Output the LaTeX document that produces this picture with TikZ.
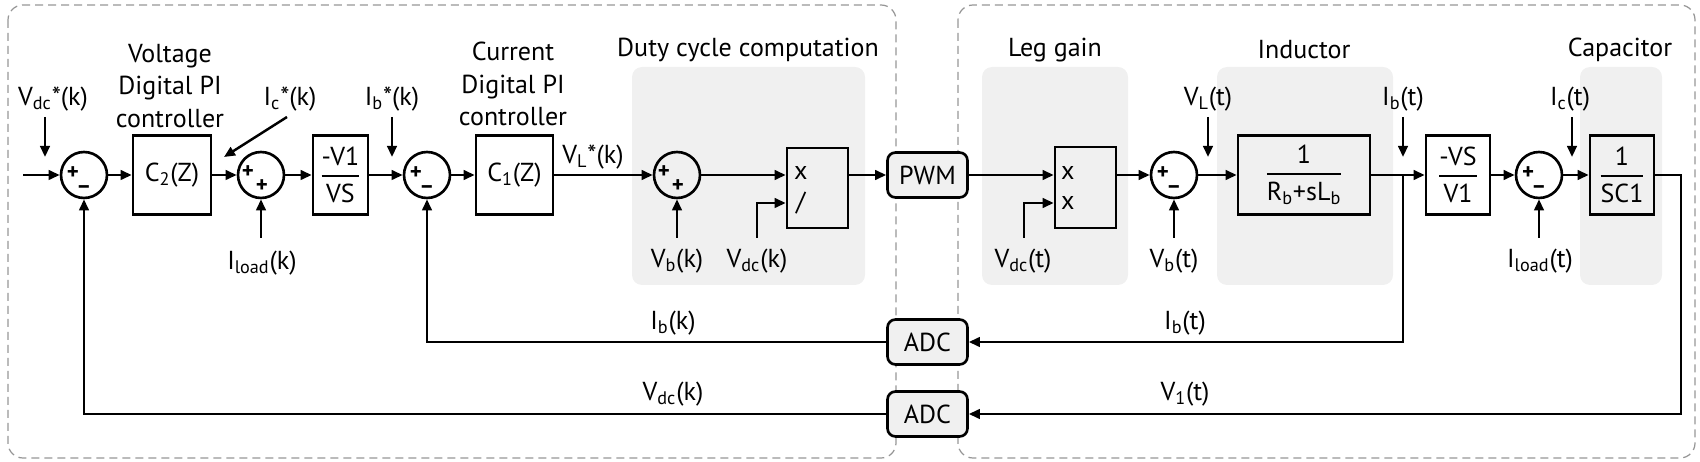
\documentclass[tikz,border=0pt]{standalone}
\usepackage{fontspec}
\setmainfont{PT Sans}
\usepackage{amsmath}
\usetikzlibrary{arrows.meta}

\definecolor{zonagray}{RGB}{240,240,240}
\definecolor{bordogray}{RGB}{150,150,150}

\newcommand{\frazione}[2]{$\genfrac{}{}{1.3pt}{0}{\text{#1}}{\text{#2}}$}

\begin{document}
\begin{tikzpicture}[x=0.02cm, y=-0.02cm,
	every node/.style={font=\fontsize{14.8pt}{18.5pt}\selectfont},
	blk/.style={draw, line width=1.5pt, inner sep=0pt, minimum height=1.58cm},
	sumc/.style={draw, circle, line width=1.5pt, minimum size=0.92cm, inner sep=0pt},
	conv/.style={draw, line width=1.5pt, rounded corners=0.16cm, fill=zonagray, minimum width=1.6cm, minimum height=0.9cm, inner sep=0pt},
	sgn/.style={font=\fontsize{13pt}{13pt}\selectfont\bfseries, inner sep=0pt},
	sig/.style={line width=1.4pt, -{Triangle[length=0.22cm, width=0.19cm]}},
	zona/.style={fill=zonagray, rounded corners=0.2cm},
	cornice/.style={draw=bordogray, line width=0.7pt, dash pattern=on 0.16cm off 0.1cm, rounded corners=0.3cm}]
	\useasboundingbox (0,0) rectangle (1700,462);

	% sfondi
	\draw[cornice] (8,5) rectangle (896,458);
	\draw[cornice] (958,5) rectangle (1695,458);
	\fill[zona] (632,67) rectangle (865,285);
	\fill[zona] (982,67) rectangle (1128,285);
	\fill[zona] (1217,67) rectangle (1393,285);
	\fill[zona] (1580,67) rectangle (1662,285);

	% titoli
	\node[align=center] (tvolt) at (170,86) {Voltage\\Digital PI\\controller};
	\node[align=center] (tcurr) at (513,84) {Current\\Digital PI\\controller};
	\node (tduty) at (748,50) {Duty cycle computation};
	\node (tleg) at (1055,50) {Leg gain};
	\node (tind) at (1304,50) {Inductor};
	\node (tcap) at (1620,50) {Capacitor};

	% blocchi
	\node[sumc] (s1) at (84,175) {};
	\node[blk, minimum width=1.56cm] (c2z) at (172,175) {C\textsubscript{2}(Z)};
	\node[sumc] (s2) at (261,175) {};
	\node[blk, minimum width=1.1cm] (gv) at (340.5,175) {\frazione{-V1}{VS}};
	\node[sumc] (s3) at (427,175) {};
	\node[blk, minimum width=1.54cm] (c1z) at (514.5,175) {C\textsubscript{1}(Z)};
	\node[sumc] (s4) at (677,175) {};
	\node[blk, minimum width=1.22cm, minimum height=1.6cm] (divi) at (817.5,188) {};
	\node (divx) at ([shift={(15,-15)}]divi.west) {x};
	\node (divd) at ([shift={(15,15)}]divi.west) {/};
	\node[conv] (pwm) at (927.5,175) {PWM};
	\node[conv] (adc1) at (927.5,342) {ADC};
	\node[conv] (adc2) at (927.5,414) {ADC};
	\node[blk, minimum width=1.22cm, minimum height=1.62cm] (molt) at (1085.5,187.5) {};
	\node (moltx) at ([shift={(14,-14.5)}]molt.west) {x};
	\node (molty) at ([shift={(14,15.5)}]molt.west) {x};
	\node[sumc] (s5) at (1174,175) {};
	\node[blk, minimum width=2.64cm] (indut) at (1304,175) {\frazione{1}{R\textsubscript{b}+sL\textsubscript{b}}};
	\node[blk, minimum width=1.28cm] (gi) at (1458,175) {\frazione{-VS}{V1}};
	\node[sumc] (s6) at (1539,175) {};
	\node[blk, minimum width=1.28cm] (capac) at (1622,175) {\frazione{1}{SC1}};

	% segni
	\foreach \s in {s1,s3,s5,s6} {
		\node[sgn] (\s p) at ([shift={(-11,-2)}]\s.center) {+};
		\node[sgn] (\s m) at ([shift={(0,15)}]\s.center) {–};
	}
	\foreach \s in {s2,s4} {
		\node[sgn] (\s p) at ([shift={(-13,-3)}]\s.center) {+};
		\node[sgn] (\s q) at ([shift={(1,11)}]\s.center) {+};
	}

	% etichette
	\node (lvdcr) at (53,99) {V\textsubscript{dc}*(k)};
	\node (licr) at (290,99) {I\textsubscript{c}*(k)};
	\node (libr) at (392,99) {I\textsubscript{b}*(k)};
	\node (lvls) at (593,157) {V\textsubscript{L}*(k)};
	\node (lilk) at (262,263) {I\textsubscript{load}(k)};
	\node (lvbk) at (677,261) {V\textsubscript{b}(k)};
	\node (lvdck) at (757,261) {V\textsubscript{dc}(k)};
	\node (lvdct) at (1023,261) {V\textsubscript{dc}(t)};
	\node (lvbt) at (1174,261) {V\textsubscript{b}(t)};
	\node (lilt) at (1540,261) {I\textsubscript{load}(t)};
	\node (lvlt) at (1208,99) {V\textsubscript{L}(t)};
	\node (libt) at (1403,99) {I\textsubscript{b}(t)};
	\node (lict) at (1570,99) {I\textsubscript{c}(t)};
	\node (libk) at (673,323) {I\textsubscript{b}(k)};
	\node (lvdcf) at (673,394) {V\textsubscript{dc}(k)};
	\node (libf) at (1185,323) {I\textsubscript{b}(t)};
	\node (lv1f) at (1185,394) {V\textsubscript{1}(t)};

	% frecce delle etichette
	\coordinate (f1a) at (45,117); \coordinate (f1b) at (45,157);
	\coordinate (f2a) at (287,117); \coordinate (f2b) at (224,157);
	\coordinate (f3a) at (392,117); \coordinate (f3b) at (392,157);
	\coordinate (f4a) at (1208,117); \coordinate (f4b) at (1208,157);
	\coordinate (f5a) at (1403,117); \coordinate (f5b) at (1403,157);
	\coordinate (f6a) at (1572,117); \coordinate (f6b) at (1572,157);
	\draw[sig] (f1a) -- (f1b);
	\draw[sig] (f2a) -- (f2b);
	\draw[sig] (f3a) -- (f3b);
	\draw[sig] (f4a) -- (f4b);
	\draw[sig] (f5a) -- (f5b);
	\draw[sig] (f6a) -- (f6b);

	\coordinate (u2) at (261,238); \draw[sig] (u2) -- (s2.south);
	\coordinate (u4) at (677,238); \draw[sig] (u4) -- (s4.south);
	\coordinate (u5) at (1174,238); \draw[sig] (u5) -- (s5.south);
	\coordinate (u6) at (1539,238); \draw[sig] (u6) -- (s6.south);
	\coordinate (vdckp) at (757,238); \draw[sig] (vdckp) |- ([yshift=-0.3cm]divi.west);
	\coordinate (vdctp) at (1024,238); \draw[sig] (vdctp) |- ([yshift=-0.31cm]molt.west);

	% catena diretta
	\coordinate (ing) at (23,175);
	\draw[sig] (ing) -- (s1);
	\draw[sig] (s1) -- (c2z);
	\draw[sig] (c2z) -- (s2);
	\draw[sig] (s2) -- (gv);
	\draw[sig] (gv) -- (s3);
	\draw[sig] (s3) -- (c1z);
	\draw[sig] (c1z) -- (s4);
	\draw[sig] (s4) -- (s4 -| divi.west);
	\draw[sig] (divi.east |- s4) -- (pwm);
	\draw[sig] (pwm) -- (pwm -| molt.west);
	\draw[sig] (molt.east |- s5) -- (s5);
	\draw[sig] (s5) -- (indut);
	\draw[sig] (indut) -- (gi);
	\draw[sig] (gi) -- (s6);
	\draw[sig] (s6) -- (capac);

	% retroazioni
	\coordinate (ram) at (1403,175); % da Ib a ADC
	\coordinate (cdx) at (1681,175); % da V1 a ADC
	\draw[sig] (ram) |- (adc1.east);
	\draw[sig] (capac.east) -- (cdx) |- (adc2.east);
	\draw[sig] (adc1.west) -| (s3.south);
	\draw[sig] (adc2.west) -| (s1.south);
\end{tikzpicture}
\end{document}
